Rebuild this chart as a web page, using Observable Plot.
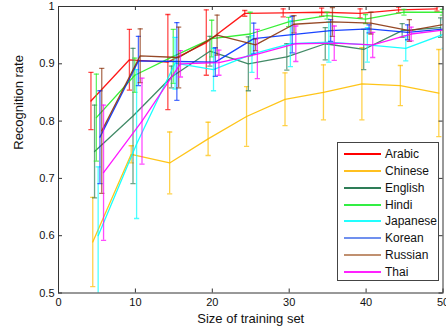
<!DOCTYPE html>
<html><head><meta charset="utf-8">
<script src="https://cdn.jsdelivr.net/npm/d3@7"></script>
<script src="https://cdn.jsdelivr.net/npm/@observablehq/plot@0.6"></script>
<style>
body{margin:0;background:#fff;font-family:Arial,"Liberation Sans",sans-serif;overflow:hidden}
#wrap{position:relative;width:446px;height:333px}
#legend{position:absolute;left:337px;top:142px;width:102px;height:139px;border:1px solid #444;background:#fff;box-sizing:border-box;font-size:12px;color:#111}
.row{position:absolute;left:6px;height:16px;display:flex;align-items:center;white-space:nowrap}
.sw{width:37px;height:0;border-top:2px solid;margin-right:4px}
</style></head>
<body><div id="wrap"></div>
<script>
const sizes = [5,10,15,20,25,30,35,40,45,50];
const languages = ["Arabic","Chinese","English","Hindi","Japanese","Korean","Russian","Thai"];
const arabic   = [0.835,0.907,0.903,0.937,0.988,0.989,0.990,0.988,0.994,0.996];
const arabicErr= [0.050,0.053,0.083,0.057,0.005,0.007,0.007,0.008,0.005,0.004];
const chinese   = [0.589,0.742,0.727,0.769,0.808,0.838,0.850,0.865,0.862,0.849];
const chineseErr= [0.078,0.015,0.054,0.029,0.052,0.046,0.048,0.063,0.035,0.076];
const english   = [0.747,0.809,0.877,0.922,0.900,0.912,0.935,0.925,0.958,0.963];
const englishErr= [0.081,0.118,0.019,0.026,0.047,0.023,0.028,0.035,0.012,0.017];
const hindi   = [0.806,0.880,0.913,0.944,0.952,0.973,0.984,0.978,0.990,0.990];
const hindiErr= [0.076,0.030,0.047,0.032,0.038,0.008,0.006,0.008,0.005,0.005];
const japanese   = [0.600,0.760,0.901,0.890,0.917,0.935,0.938,0.933,0.927,0.952];
const japaneseErr= [0.120,0.130,0.045,0.037,0.032,0.040,0.035,0.030,0.022,0.025];
const korean   = [0.772,0.905,0.904,0.903,0.944,0.951,0.958,0.961,0.955,0.961];
const koreanErr= [0.081,0.043,0.068,0.025,0.027,0.032,0.019,0.007,0.013,0.010];
const russian   = [0.783,0.914,0.911,0.950,0.933,0.969,0.973,0.971,0.958,0.970];
const russianErr= [0.109,0.047,0.053,0.035,0.010,0.015,0.025,0.019,0.019,0.009];
const thai   = [0.710,0.800,0.900,0.902,0.917,0.935,0.936,0.933,0.952,0.960];
const thaiErr= [0.118,0.075,0.023,0.022,0.043,0.031,0.030,0.022,0.012,0.010];
const xTicks = [0,10,20,30,40,50];
const yTicks = [0.5,0.6,0.7,0.8,0.9,1];
const xLabel = "Size of training set";
const yLabel = "Recognition rate";

const means = [arabic,chinese,english,hindi,japanese,korean,russian,thai];
const errs = [arabicErr,chineseErr,englishErr,hindiErr,japaneseErr,koreanErr,russianErr,thaiErr];
const colors = ["#ff0000","#ffbf00","#2e7d57","#22ee22","#00ffff","#0030ff","#8b3510","#ff00ff"];
const legendColors = ["#ff0000","#ffc020","#2e7d57","#33ee44","#22ffff","#7090ee","#c09070","#ff22ff"];

const W = 446, H = 333, mL = 58, mR = 3.5, mT = 6, mB = 40.5;
const innerW = W - mL - mR, innerH = H - mT - mB;
const capSymbol = {draw(ctx, size){ const r = Math.sqrt(size/Math.PI); ctx.moveTo(-r,0); ctx.lineTo(r,0); }};

const marks = [];
languages.forEach((lang, i) => {
  const rows = sizes.map((s, j) => ({size: s, mean: means[i][j], lo: means[i][j]-errs[i][j], hi: means[i][j]+errs[i][j]}));
  const dx = -6 + 1.8*i;
  const c = colors[i];
  marks.push(Plot.ruleX(rows, {x: "size", y1: "lo", y2: "hi", dx, stroke: c, strokeOpacity: 0.7, strokeWidth: 1.3, clip: true}));
  marks.push(Plot.dot(rows, {x: "size", y: "lo", dx, symbol: capSymbol, r: 2.6, stroke: c, strokeOpacity: 0.7, strokeWidth: 1.3, fill: "none", clip: true}));
  marks.push(Plot.dot(rows, {x: "size", y: "hi", dx, symbol: capSymbol, r: 2.6, stroke: c, strokeOpacity: 0.7, strokeWidth: 1.3, fill: "none", clip: true}));
  marks.push(Plot.line(rows, {x: "size", y: "mean", dx, stroke: c, strokeWidth: 1.3, strokeOpacity: 0.9, clip: true}));
});

const chart = Plot.plot({
  width: W, height: H,
  marginLeft: mL, marginRight: mR, marginTop: mT, marginBottom: mB,
  style: {fontFamily: 'Arial,"Liberation Sans",sans-serif', fontSize: "11px", color: "#111", background: "#fff"},
  x: {domain: [0,50]},
  y: {domain: [0.5,1]},
  marks: [
    ...marks,
    Plot.frame({stroke: "#333", strokeWidth: 1}),
    Plot.ruleX(xTicks, {x: d => d, insetTop: innerH - 4, stroke: "#333"}),
    Plot.ruleX(xTicks, {x: d => d, insetBottom: innerH - 4, stroke: "#333"}),
    Plot.ruleY(yTicks, {y: d => d, insetRight: innerW - 4, stroke: "#333"}),
    Plot.ruleY(yTicks, {y: d => d, insetLeft: innerW - 4, stroke: "#333"}),
    Plot.axisX({ticks: xTicks, tickSize: 0, tickPadding: 5.5, label: null, tickFormat: d => String(d), fontSize: 11}),
    Plot.axisY({ticks: yTicks, tickSize: 0, tickPadding: 4, label: null, tickFormat: d => d === 1 ? "1" : d.toFixed(1), fontSize: 11}),
    Plot.text([xLabel], {text: d => d, frameAnchor: "bottom", dy: 29.5, fontSize: 13, fill: "#111"}),
    Plot.text([yLabel], {text: d => d, frameAnchor: "left", rotate: -90, dx: -40, fontSize: 13, fill: "#111"})
  ]
});
const wrap = document.getElementById("wrap");
wrap.appendChild(chart);

const legend = document.createElement("div");
legend.id = "legend";
languages.forEach((lang, i) => {
  const row = document.createElement("div");
  row.className = "row";
  row.style.top = (3 + 16.85*i) + "px";
  const sw = document.createElement("span");
  sw.className = "sw";
  sw.style.borderTopColor = legendColors[i];
  const t = document.createElement("span");
  t.textContent = lang;
  row.appendChild(sw); row.appendChild(t);
  legend.appendChild(row);
});
wrap.appendChild(legend);
</script>
</body></html>
